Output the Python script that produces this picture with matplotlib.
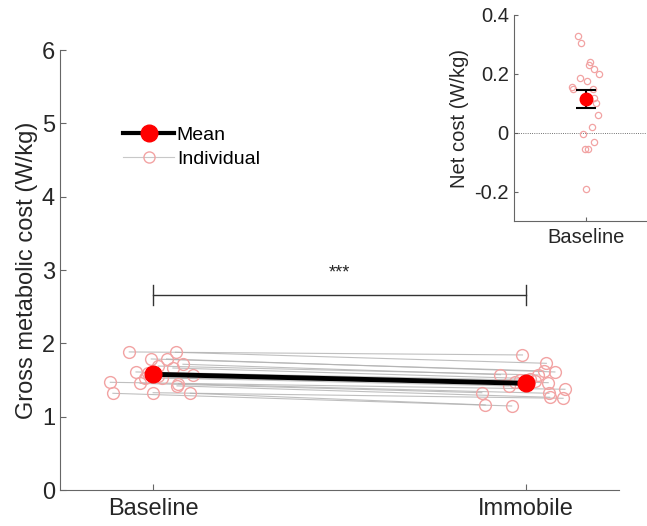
import matplotlib
matplotlib.use('Agg')
import matplotlib.pyplot as plt
import numpy as np

plt.rcParams['font.family'] = ['Liberation Sans', 'DejaVu Sans']

# Gross metabolic cost per subject (W/kg)
baseline = [1.883, 1.787, 1.787, 1.878, 1.715, 1.69, 1.664, 1.61, 1.565, 1.469,
            1.455, 1.45, 1.42, 1.319, 1.327, 1.319, 1.60, 1.56, 1.53, 1.53]
baseline_jit = [-0.064, -0.005, 0.036, 0.06, 0.08, 0.014, 0.053, -0.046, 0.106, -0.115,
                -0.035, 0.068, 0.064, -0.108, 0.0, 0.1, -0.013, 0.014, -0.021, 0.024]
immobile = [1.842, 1.728, 1.623, 1.61, 1.573, 1.569, 1.464, 1.42, 1.327, 1.374,
            1.319, 1.265, 1.251, 1.16, 1.146, 1.52, 1.50, 1.48, 1.47, 1.46]
immobile_jit = [-0.009, 0.055, 0.048, 0.078, -0.068, 0.033, 0.06, -0.045, -0.118, 0.105,
                0.062, 0.064, 0.1, -0.109, -0.038, 0.011, -0.016, 0.024, -0.029, 0.005]

# Net cost (W/kg)
net = [0.33, 0.304, 0.24, 0.23, 0.217, 0.20, 0.187, 0.176, 0.156, 0.15,
       0.15, 0.119, 0.10, 0.062, 0.02, -0.005, -0.03, -0.055, -0.053, -0.19]
net_jit = [-0.056, -0.035, 0.028, 0.021, 0.056, 0.09, -0.042, 0.007, -0.097, -0.09,
           0.049, 0.056, 0.069, 0.083, 0.042, -0.021, 0.056, -0.007, 0.014, 0.0]

conds = ['Baseline', 'Immobile']

red_light = '#f2a3a3'
axcol = '#666666'
txtcol = '#262626'

fig = plt.figure(figsize=(6.47, 5.26), dpi=100)
ax = fig.add_axes([0.0927, 0.0684, 0.864, 0.8365])

# pair subjects by rank
b_order = np.argsort(baseline)[::-1]
i_order = np.argsort(immobile)[::-1]
for bi, ii in zip(b_order, i_order):
    ax.plot([1 + baseline_jit[bi], 2 + immobile_jit[ii]], [baseline[bi], immobile[ii]],
            color='#b0b0b0', lw=0.8, alpha=0.8, zorder=1)
ax.plot(1 + np.array(baseline_jit), baseline, 'o', mfc='none', mec=red_light, ms=8.5,
        mew=1.0, zorder=2)
ax.plot(2 + np.array(immobile_jit), immobile, 'o', mfc='none', mec=red_light, ms=8.5,
        mew=1.0, zorder=2)

means = [np.mean(baseline), np.mean(immobile)]
ax.plot([1, 2], means, '-o', color='black', lw=3.5, mfc='red', mec='red', ms=12, zorder=3)

# legend handles
h_mean, = ax.plot([], [], '-o', color='black', lw=3, mfc='red', mec='red', ms=12)
h_ind, = ax.plot([], [], '-o', color='#c8c8c8', lw=0.8, mfc='none', mec=red_light, ms=8)
ax.legend([h_mean, h_ind], ['Mean', 'Individual'], loc='upper left',
          bbox_to_anchor=(0.082, 0.866), frameon=False, fontsize=14,
          handlelength=2.6, handletextpad=0.15, labelspacing=0.3)

# significance bar
ax.plot([1, 2], [2.66, 2.66], color='#333333', lw=1)
ax.plot([1, 1], [2.52, 2.8], color='#333333', lw=1)
ax.plot([2, 2], [2.52, 2.8], color='#333333', lw=1)
ax.text(1.5, 2.84, '***', ha='center', va='bottom', fontsize=13, color=txtcol)

ax.set_xlim(0.75, 2.25)
ax.set_ylim(0, 6)
ax.set_xticks([1, 2])
ax.set_xticklabels(conds)
ax.set_yticks(range(7))
ax.set_ylabel('Gross metabolic cost (W/kg)', fontsize=17, color=txtcol, labelpad=3)
for s in ['top', 'right']:
    ax.spines[s].set_visible(False)
for s in ['left', 'bottom']:
    ax.spines[s].set_color(axcol)
ax.tick_params(direction='in', length=4, colors=axcol, labelcolor=txtcol, labelsize=17)
ax.tick_params(axis='x', pad=6)

# inset: net cost
ai = fig.add_axes([0.794, 0.579, 0.2056, 0.3926])
ai.axhline(0, color='#444444', lw=0.6, ls=':')
ai.plot(1 + np.array(net_jit), net, 'o', mfc='none', mec=red_light, ms=4.5, mew=0.9)
m = np.mean(net)
sem = np.std(net, ddof=1) / np.sqrt(len(net))
ai.errorbar([1], [m], yerr=[sem], fmt='o', color='black', mfc='red', mec='red', ms=9,
            capsize=7, elinewidth=1.5, capthick=1.5)
ai.set_xlim(0.5, 1.424)
ai.set_ylim(-0.3, 0.4)
ai.set_xticks([1])
ai.set_xticklabels(['Baseline'])
ai.set_yticks([-0.2, 0, 0.2, 0.4])
ai.set_yticklabels(['-0.2', '0', '0.2', '0.4'])
ai.set_ylabel('Net cost (W/kg)', fontsize=14.5, color=txtcol)
for s in ['top', 'right']:
    ai.spines[s].set_visible(False)
for s in ['left', 'bottom']:
    ai.spines[s].set_color(axcol)
ai.tick_params(direction='in', length=3, colors=axcol, labelcolor=txtcol, labelsize=14.5)
ai.tick_params(axis='x', pad=5)

fig.savefig('out.png', dpi=100)
